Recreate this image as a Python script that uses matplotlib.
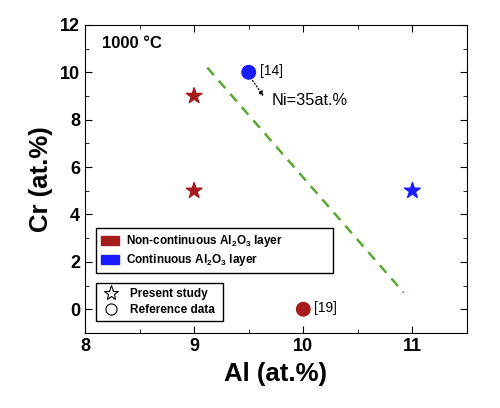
import matplotlib
matplotlib.use("Agg")
import matplotlib.pyplot as plt
from matplotlib.patches import Patch
from matplotlib.lines import Line2D

plt.rcParams['font.family'] = ['Liberation Sans', 'DejaVu Sans']
plt.rcParams['mathtext.fontset'] = 'custom'
plt.rcParams['mathtext.rm'] = 'Liberation Sans'
plt.rcParams['mathtext.bf'] = 'Liberation Sans:bold'

red = '#a61c1c'
blue = '#1a1aff'

# present study (stars)
star_al = [9, 9, 11]
star_cr = [9, 5, 5]
star_col = [red, red, blue]

# reference data (circles)
ref_al = [9.5, 10]
ref_cr = [10, 0]
ref_col = [blue, red]
ref_lab = ['[14]', '[19]']

# boundary line
bound_al = [9.12, 10.92]
bound_cr = [10.2, 0.7]

fig = plt.figure(figsize=(5, 4.08), dpi=100)
ax = fig.add_axes([0.17, 0.184, 0.764, 0.755])

ax.plot(bound_al, bound_cr, '--', color='#5aa832', lw=1.8, dashes=(4, 3))
ax.scatter(star_al, star_cr, marker='*', s=140, c=star_col, zorder=3)
ax.scatter(ref_al, ref_cr, marker='o', s=95, c=ref_col, zorder=3)
for x, y, t in zip(ref_al, ref_cr, ref_lab):
    ax.text(x + 0.1, y + 0.05, t, fontsize=10, va='center')

ax.text(9.71, 8.8, 'Ni=35at.%', fontsize=11.8, va='center')
ax.annotate('', xy=(9.65, 8.9), xytext=(9.52, 9.75),
            arrowprops=dict(arrowstyle='-|>', ls=':', color='black', lw=0.9,
                            mutation_scale=7))

ax.text(0.045, 0.965, '1000 °C', transform=ax.transAxes, fontsize=12,
        fontweight='bold', va='top')

ax.set_xlim(8, 11.5)
ax.set_ylim(-1, 12)
ax.set_xticks([8, 9, 10, 11])
ax.set_xticks([8.5, 9.5, 10.5], minor=True)
ax.set_yticks([0, 2, 4, 6, 8, 10, 12])
ax.set_yticks([1, 3, 5, 7, 9, 11], minor=True)
ax.tick_params(which='both', direction='in', top=True, right=True)
ax.tick_params(which='major', length=5, labelsize=13)
ax.tick_params(which='minor', length=3)
for lab in ax.get_xticklabels() + ax.get_yticklabels():
    lab.set_fontweight('bold')
ax.set_xlabel('Al (at.%)', fontsize=18.5, fontweight='bold', labelpad=5)
ax.set_ylabel('Cr (at.%)', fontsize=18.5, fontweight='bold', labelpad=5)

h1 = [Patch(color=red), Patch(color=blue)]
l1 = [r'Non-continuous Al$\mathbf{_2}$O$\mathbf{_3}$ layer',
      r'Continuous Al$\mathbf{_2}$O$\mathbf{_3}$ layer']
leg1 = ax.legend(h1, l1, loc='upper left', mode='expand',
                 bbox_to_anchor=(0.029, 0.2, 0.62, 0.141), borderaxespad=0,
                 fancybox=False, edgecolor='black', framealpha=1,
                 prop={'weight': 'bold', 'size': 8.5}, handlelength=1.5,
                 handleheight=0.8, handletextpad=0.6, borderpad=0.45,
                 labelspacing=0.25)
leg1.get_frame().set_linewidth(1.0)
ax.add_artist(leg1)

h2 = [Line2D([], [], marker='*', ls='', mfc='white', mec='black', ms=11, mew=0.8),
      Line2D([], [], marker='o', ls='', mfc='white', mec='black', ms=8, mew=0.8)]
leg2 = ax.legend(h2, ['Present study', 'Reference data'], loc='upper left',
                 mode='expand', bbox_to_anchor=(0.029, 0.05, 0.332, 0.112),
                 borderaxespad=0, fancybox=False,
                 edgecolor='black', framealpha=1,
                 prop={'weight': 'bold', 'size': 8.5}, handlelength=1.6,
                 borderpad=0.45, labelspacing=0.3)
leg2.get_frame().set_linewidth(1.0)

fig.savefig('out.png', dpi=100)
